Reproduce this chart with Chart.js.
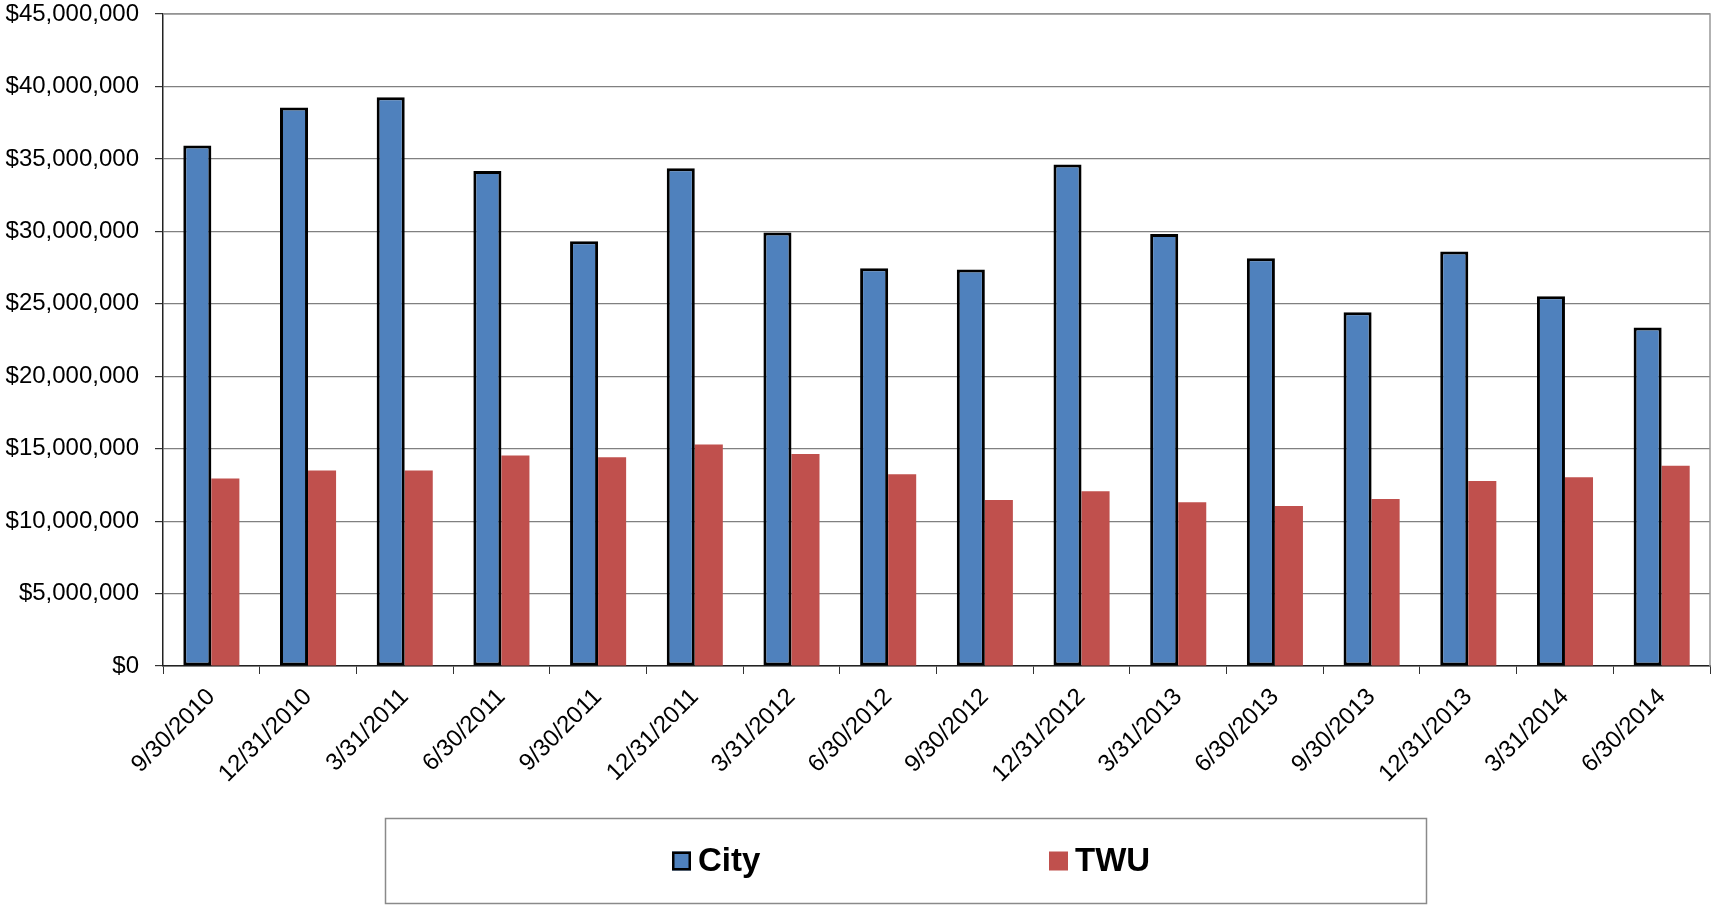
<!DOCTYPE html>
<html>
<head>
<meta charset="utf-8">
<script src="https://cdn.jsdelivr.net/npm/chart.js@4.4.1/dist/chart.umd.min.js"></script>
<style>
  html, body { margin: 0; padding: 0; background: #ffffff; }
  #wrap { width: 1711px; height: 906px; }
</style>
</head>
<body>
<div id="wrap"><canvas id="chart" width="1711" height="906"></canvas></div>
<script>
// Quarter-end dates
const categories = [
  '9/30/2010', '12/31/2010', '3/31/2011', '6/30/2011',
  '9/30/2011', '12/31/2011', '3/31/2012', '6/30/2012',
  '9/30/2012', '12/31/2012', '3/31/2013', '6/30/2013',
  '9/30/2013', '12/31/2013', '3/31/2014', '6/30/2014'
];

// Dollar amounts per quarter
const cityValues = [
  35930000, 38550000, 39250000, 34160000,
  29320000, 34360000, 29920000, 27460000,
  27370000, 34620000, 29810000, 28140000,
  24410000, 28600000, 25520000, 23360000
];
const twuValues = [
  12940000, 13490000, 13490000, 14520000,
  14410000, 15280000, 14630000, 13230000,
  11460000, 12060000, 11300000, 11040000,
  11530000, 12770000, 13020000, 13820000
];

// Value axis ticks
const yTickValues = [0, 5000000, 10000000, 15000000, 20000000, 25000000, 30000000, 35000000, 40000000, 45000000];

const FONT = '"Liberation Sans", Arial, Helvetica, sans-serif';

const money = v => '$' + Number(v).toLocaleString('en-US');

// Grey frame on the top and right of the plot
const frame = {
  id: 'frame',
  afterDatasetsDraw(chart) {
    const { ctx, chartArea: a } = chart;
    ctx.save();
    ctx.strokeStyle = '#999999';
    ctx.lineWidth = 1.5;
    ctx.beginPath();
    ctx.moveTo(a.left, a.top);
    ctx.lineTo(a.right, a.top);
    ctx.lineTo(a.right, a.bottom);
    ctx.stroke();
    ctx.restore();
  }
};

// Boxed legend below the axis labels
const boxedLegend = {
  id: 'boxedLegend',
  afterDraw(chart) {
    const { ctx } = chart;
    const box = { left: 385, top: 818, right: 1426, bottom: 903 };
    ctx.save();
    ctx.strokeStyle = '#8a8a8a';
    ctx.lineWidth = 1.5;
    ctx.strokeRect(box.left + 0.5, box.top + 0.5, box.right - box.left, box.bottom - box.top);

    const items = [
      { x: 672, ds: chart.data.datasets[0] },
      { x: 1049, ds: chart.data.datasets[1] }
    ];
    const cy = 861;
    const sq = 19;
    ctx.font = 'bold 33px ' + FONT;
    ctx.textBaseline = 'middle';
    ctx.textAlign = 'left';
    items.forEach(it => {
      ctx.fillStyle = it.ds.backgroundColor;
      ctx.fillRect(it.x, cy - sq / 2, sq, sq);
      if (it.ds.borderWidth) {
        ctx.strokeStyle = it.ds.borderColor;
        ctx.lineWidth = 2.5;
        ctx.strokeRect(it.x + 1.25, cy - sq / 2 + 1.25, sq - 2.5, sq - 2.5);
      }
      ctx.fillStyle = '#000000';
      ctx.fillText(it.ds.label, it.x + sq + 7, cy + 1);
    });
    ctx.restore();
  }
};

new Chart(document.getElementById('chart'), {
  type: 'bar',
  data: {
    labels: categories,
    datasets: [
      {
        label: 'City',
        data: cityValues,
        backgroundColor: '#4F81BD',
        borderColor: '#000000',
        borderWidth: 3,
        borderSkipped: false
      },
      {
        label: 'TWU',
        data: twuValues,
        backgroundColor: '#C0504D',
        borderWidth: 0
      }
    ]
  },
  options: {
    responsive: false,
    animation: false,
    devicePixelRatio: 1,
    layout: { padding: { top: 0, right: 1, left: 0, bottom: 0 } },
    datasets: {
      bar: { categoryPercentage: 0.58, barPercentage: 1.0 }
    },
    plugins: {
      legend: { display: false },
      tooltip: { enabled: false }
    },
    scales: {
      x: {
        offset: true,
        grid: {
          offset: true,
          drawOnChartArea: false,
          drawTicks: true,
          tickLength: 8,
          tickColor: '#333333'
        },
        border: { display: true, color: '#222222', width: 1.5 },
        ticks: {
          autoSkip: false,
          maxRotation: 45,
          minRotation: 45,
          padding: 9,
          color: '#000000',
          font: { family: FONT, size: 24 }
        },
        afterFit(scale) { scale.height = 240; }
      },
      y: {
        min: 0,
        max: 45000000,
        afterBuildTicks(scale) {
          scale.ticks = yTickValues.map(v => ({ value: v }));
        },
        grid: {
          color: '#808080',
          lineWidth: 1.2,
          drawTicks: true,
          tickLength: 8,
          tickColor: '#333333'
        },
        border: { display: true, color: '#222222', width: 1.5 },
        ticks: {
          padding: 16,
          color: '#000000',
          font: { family: FONT, size: 24 },
          callback: v => money(v)
        },
        afterFit(scale) {
          scale.width = 163;
          scale.paddingTop = 14;
          scale.paddingBottom = 0;
        }
      }
    }
  },
  plugins: [frame, boxedLegend]
});
</script>
</body>
</html>
